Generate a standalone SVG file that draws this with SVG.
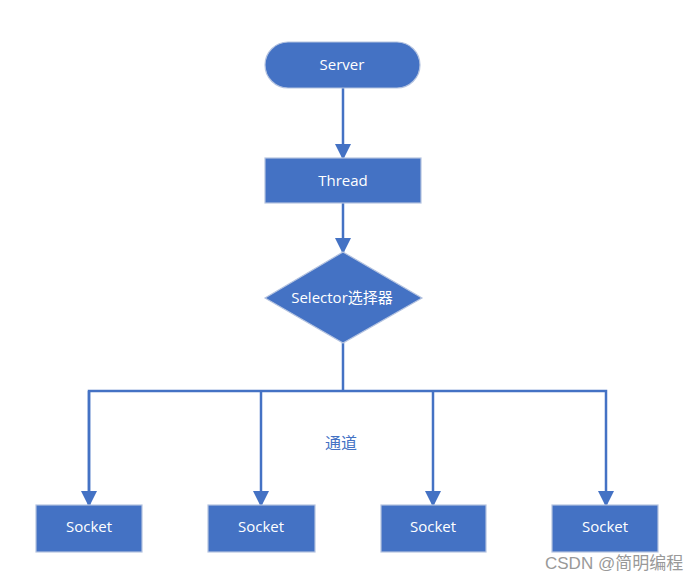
<svg xmlns="http://www.w3.org/2000/svg" width="697" height="580" viewBox="0 0 697 580">
<defs>
<style>
.node{fill:#4472C4;stroke:#B4C3E0;stroke-width:1.2}
.t{font-family:"Open Sans","Noto Sans CJK SC",sans-serif;font-size:15px;fill:#fff;text-anchor:middle;dominant-baseline:central}
.c{fill:none;stroke:#4472C4;stroke-width:2.5}
.lbl{font-family:"Open Sans","Noto Sans CJK SC",sans-serif;font-size:16px;fill:#4472C4}
.wm{font-family:"Liberation Sans","Noto Sans CJK SC",sans-serif;font-size:17px;fill:#999}
</style>
<marker id="ah" markerWidth="14" markerHeight="16" refX="14" refY="8" orient="auto" markerUnits="userSpaceOnUse">
<path d="M0,0 L16,8 L0,16 Z" fill="#4472C4"/>
</marker>
</defs>
<rect width="697" height="580" fill="#fff"/>
<g id="connectors">
<path class="c" d="M343,88 V158" marker-end="url(#ah)"/>
<path class="c" d="M343,203 V252" marker-end="url(#ah)"/>
<path class="c" d="M343,343 V391"/>
<path class="c" d="M89,505 V391 H606 V505" marker-end="url(#ah)"/>
<path class="c" d="M261,391 V505" marker-end="url(#ah)"/>
<path class="c" d="M433,391 V505" marker-end="url(#ah)"/>
<path class="c" d="M89,391 V505" marker-end="url(#ah)"/>
</g>
<g id="server">
<rect class="node" x="265" y="42" width="155" height="46" rx="23"/>
<text class="t" x="342" y="64">Server</text>
</g>
<g id="thread">
<rect class="node" x="265" y="158" width="156" height="45"/>
<text class="t" x="343" y="180">Thread</text>
</g>
<g id="selector">
<polygon class="node" points="343,252 422,298 343,343 265,298"/>
<text class="t" x="342" y="297">Selector选择器</text>
</g>
<g id="socket1">
<rect class="node" x="36" y="505" width="106" height="47"/>
<text class="t" x="89" y="526">Socket</text>
</g>
<g id="socket2">
<rect class="node" x="208" y="505" width="107" height="47"/>
<text class="t" x="261" y="526">Socket</text>
</g>
<g id="socket3">
<rect class="node" x="381" y="505" width="105" height="47"/>
<text class="t" x="433" y="526">Socket</text>
</g>
<g id="socket4">
<rect class="node" x="552" y="505" width="106" height="47"/>
<text class="t" x="605" y="526">Socket</text>
</g>
<text class="lbl" x="325" y="449">通道</text>
<text class="wm" x="545" y="569">CSDN @简明编程</text>
</svg>
